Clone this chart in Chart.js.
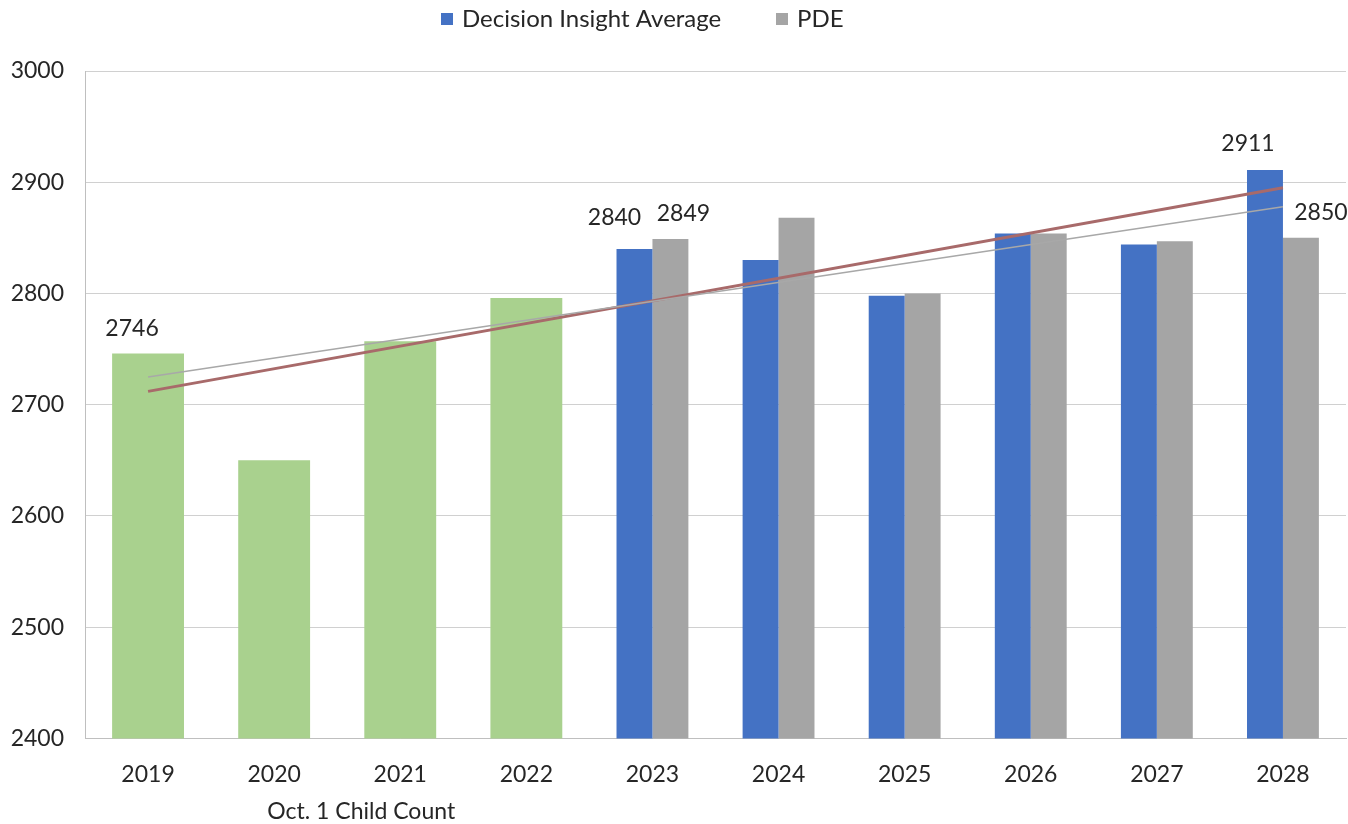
<!DOCTYPE html>
<html>
<head>
<meta charset="utf-8">
<script src="https://cdn.jsdelivr.net/npm/chart.js@4"></script>
<style>
  html, body { margin: 0; padding: 0; background: #fff; }
  #wrap { width: 1348px; height: 824px; position: relative; }
</style>
</head>
<body>
<div id="wrap"><canvas id="chart"></canvas></div>
<script>
// data
const years = ['2019', '2020', '2021', '2022', '2023', '2024', '2025', '2026', '2027', '2028'];
const childCount = [2746, 2650, 2757, 2796, null, null, null, null, null, null];
const decisionInsight = [null, null, null, null, 2840, 2830, 2798, 2854, 2844, 2911];
const pde = [null, null, null, null, 2849, 2868, 2800, 2854, 2847, 2850];
const trendRed = [2712, null, null, null, null, null, null, null, null, 2895];
const trendGray = [2725, null, null, null, null, null, null, null, null, 2878];
const yTicks = [2400, 2500, 2600, 2700, 2800, 2900, 3000];

const FONT = 'Lato, "Open Sans", sans-serif';
const TEXT = '#262626';

// which bars get a value label: [dataset, index, dx, dy]
const valueLabels = [
    [0, 0, -16, -25],
    [1, 4, -20, -31],
    [2, 4, 13, -25],
    [1, 9, -17, -26],
    [2, 9, 20, -25]
];

// legend entries drawn at the top (dataset index, x of the swatch)
const legendItems = [[1, 441], [2, 776]];

const labelPlugin = {
    id: 'labels',
    afterDatasetsDraw(chart) {
        const c = chart.ctx;
        c.save();
        c.font = '23px ' + FONT;
        c.fillStyle = TEXT;
        c.textAlign = 'center';
        c.textBaseline = 'middle';
        valueLabels.forEach(([ds, i, dx, dy]) => {
            const el = chart.getDatasetMeta(ds).data[i];
            const v = chart.data.datasets[ds].data[i];
            c.fillText(String(v), el.x + dx, el.y + dy);
        });
        // group caption under the first four years
        const xs = chart.scales.x;
        c.fillText('Oct. 1 Child Count', (xs.getPixelForValue(1) + xs.getPixelForValue(2)) / 2 + 24, 812);

        // legend
        c.font = '24px ' + FONT;
        c.textAlign = 'left';
        legendItems.forEach(([ds, x]) => {
            const d = chart.data.datasets[ds];
            c.fillStyle = d.backgroundColor;
            c.fillRect(x, 13, 12, 12);
            c.fillStyle = TEXT;
            c.fillText(d.label, x + 21, 19);
        });
        c.restore();
    }
};

new Chart(document.getElementById('chart'), {
    type: 'bar',
    data: {
        labels: years,
        datasets: [
            { label: 'Oct. 1 Child Count', data: childCount, backgroundColor: '#a9d18e', skipNull: true, order: 2 },
            { label: 'Decision Insight Average', data: decisionInsight, backgroundColor: '#4472c4', skipNull: true, order: 2 },
            { label: 'PDE', data: pde, backgroundColor: '#a5a5a5', skipNull: true, order: 2 },
            { type: 'line', label: 'trend1', data: trendRed, borderColor: '#a86a6a', borderWidth: 3, pointRadius: 0, spanGaps: true, order: 1 },
            { type: 'line', label: 'trend2', data: trendGray, borderColor: '#a8a8a8', borderWidth: 1.5, pointRadius: 0, spanGaps: true, order: 0 }
        ]
    },
    options: {
        responsive: true,
        maintainAspectRatio: false,
        animation: false,
        layout: { padding: { left: 10, right: 2, top: 71, bottom: 22 } },
        datasets: { bar: { categoryPercentage: 0.57, barPercentage: 1 } },
        plugins: {
            legend: { display: false },
            tooltip: { enabled: false }
        },
        scales: {
            x: {
                grid: { display: false },
                border: { color: '#bfbfbf' },
                ticks: { color: TEXT, font: { family: FONT, size: 23 }, padding: 14 }
            },
            y: {
                min: 2400,
                max: 3000,
                afterBuildTicks: (axis) => { axis.ticks = yTicks.map(v => ({ value: v })); },
                afterFit: (axis) => { axis.width = 75; },
                grid: { color: '#d0d0d0', drawTicks: false },
                border: { color: '#bfbfbf' },
                ticks: { color: TEXT, font: { family: FONT, size: 23 }, padding: 21, callback: (v) => String(v) }
            }
        }
    },
    plugins: [labelPlugin]
});
</script>
</body>
</html>
